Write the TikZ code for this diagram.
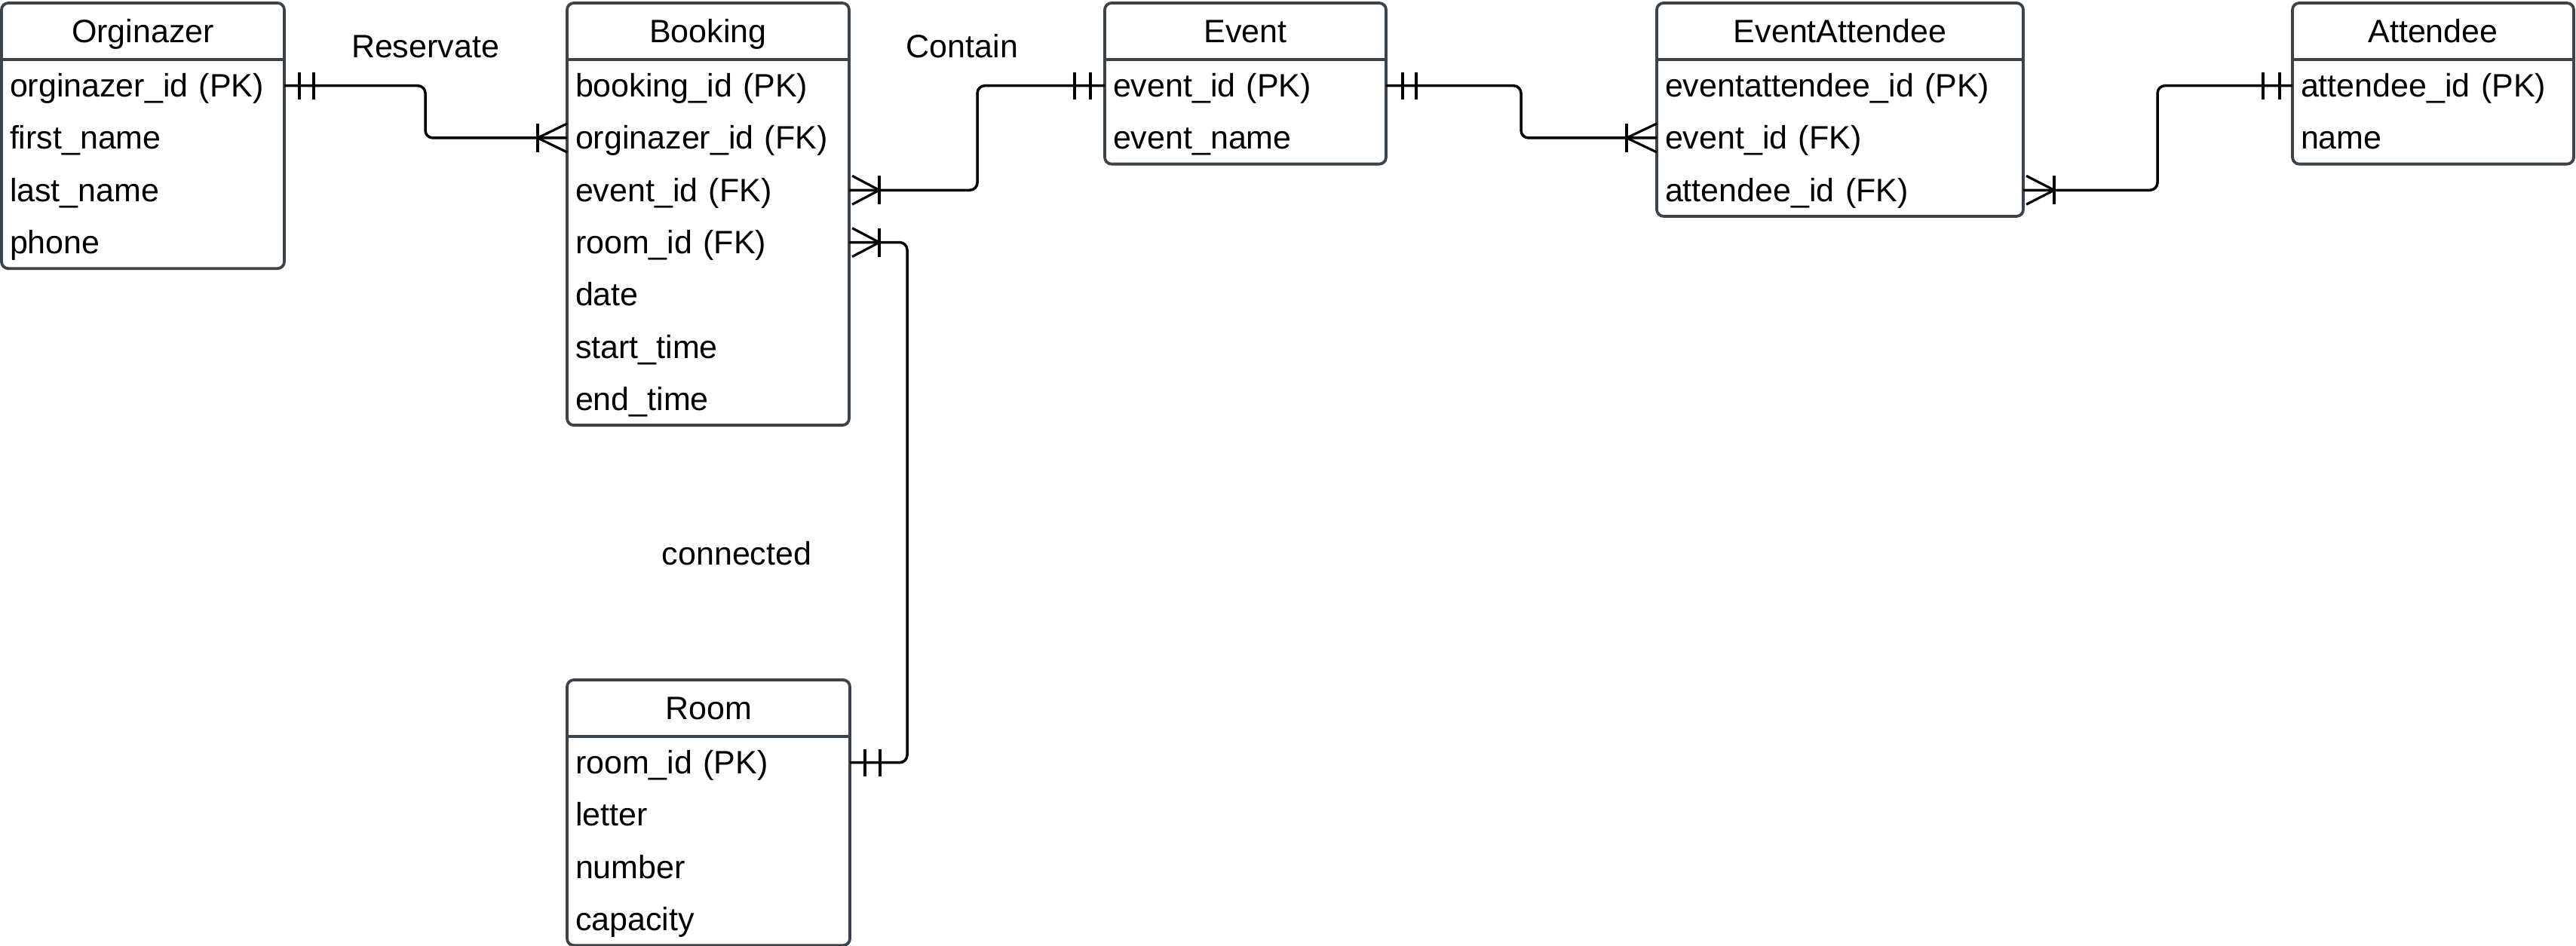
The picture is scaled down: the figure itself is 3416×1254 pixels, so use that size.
\documentclass[tikz,border=0pt]{standalone}
\usepackage{fontspec}
\setmainfont{Liberation Sans}
\definecolor{boxgray}{HTML}{3D434A}
\begin{document}
\begin{tikzpicture}[x=1pt,y=-1pt,
  every node/.style={font=\fontsize{43}{52}\selectfont, inner sep=0pt, outer sep=0pt, text height=36pt, text depth=6pt},
  hdr/.style={minimum width=#1, minimum height=75pt, anchor=north west, align=center},
  row/.style={text width=#1, inner xsep=11pt, minimum height=69.3pt, anchor=north west, align=left},
  entbox/.style={draw=boxgray, line width=3.8pt, rounded corners=9pt},
  sepline/.style={draw=boxgray, line width=3.8pt},
  conn/.style={draw=black, line width=3.5pt, rounded corners=10pt},
  tick/.style={draw=black, line width=3.2pt},
  lbl/.style={anchor=center}
]
\useasboundingbox (0,0) rectangle (3416,1254);
\fill[white] (0,0) rectangle (3416,1254);

% ---------- Orginazer ----------
\node[hdr=375pt] (org-h) at (2,4) {Orginazer};
\node[row=353pt] (org-1) at (2,79) {orginazer\_id (PK)};
\node[row=353pt] (org-2) at (2,148.3) {first\_name};
\node[row=353pt] (org-3) at (2,217.6) {last\_name};
\node[row=353pt] (org-4) at (2,286.9) {phone};
\draw[entbox] (org-h.north west) rectangle (org-4.south east);
\draw[sepline] (org-h.south west) -- (org-h.south east);

% ---------- Booking ----------
\node[hdr=374pt] (book-h) at (752,4) {Booking};
\node[row=352pt] (book-1) at (752,79) {booking\_id (PK)};
\node[row=352pt] (book-2) at (752,148.3) {orginazer\_id (FK)};
\node[row=352pt] (book-3) at (752,217.6) {event\_id (FK)};
\node[row=352pt] (book-4) at (752,286.9) {room\_id (FK)};
\node[row=352pt] (book-5) at (752,356.2) {date};
\node[row=352pt] (book-6) at (752,425.5) {start\_time};
\node[row=352pt] (book-7) at (752,494.8) {end\_time};
\draw[entbox] (book-h.north west) rectangle (book-7.south east);
\draw[sepline] (book-h.south west) -- (book-h.south east);

% ---------- Event ----------
\node[hdr=373pt] (ev-h) at (1465,4) {Event};
\node[row=351pt] (ev-1) at (1465,79) {event\_id (PK)};
\node[row=351pt] (ev-2) at (1465,148.3) {event\_name};
\draw[entbox] (ev-h.north west) rectangle (ev-2.south east);
\draw[sepline] (ev-h.south west) -- (ev-h.south east);

% ---------- EventAttendee ----------
\node[hdr=486pt] (ea-h) at (2197,4) {EventAttendee};
\node[row=464pt] (ea-1) at (2197,79) {eventattendee\_id (PK)};
\node[row=464pt] (ea-2) at (2197,148.3) {event\_id (FK)};
\node[row=464pt] (ea-3) at (2197,217.6) {attendee\_id (FK)};
\draw[entbox] (ea-h.north west) rectangle (ea-3.south east);
\draw[sepline] (ea-h.south west) -- (ea-h.south east);

% ---------- Attendee ----------
\node[hdr=373pt] (att-h) at (3040,4) {Attendee};
\node[row=351pt] (att-1) at (3040,79) {attendee\_id (PK)};
\node[row=351pt] (att-2) at (3040,148.3) {name};
\draw[entbox] (att-h.north west) rectangle (att-2.south east);
\draw[sepline] (att-h.south west) -- (att-h.south east);

% ---------- Room ----------
\node[hdr=375pt] (room-h) at (752,902) {Room};
\node[row=353pt] (room-1) at (752,977) {room\_id (PK)};
\node[row=353pt] (room-2) at (752,1046.3) {letter};
\node[row=353pt] (room-3) at (752,1115.6) {number};
\node[row=353pt] (room-4) at (752,1184.9) {capacity};
\draw[entbox] (room-h.north west) rectangle (room-4.south east);
\draw[sepline] (room-h.south west) -- (room-h.south east);

% ---------- Labels ----------
\node[lbl] (l-res) at (564,61) {Reservate};
\node[lbl] (l-con) at (1276,61) {Contain};
\node[lbl] (l-cnd) at (977,734) {connected};

% ---------- Connectors ----------
% Orginazer -> Booking
\draw[conn] (org-1.east) -- ++(187,0) |- (book-2.west);
\draw[tick] ([xshift=20pt]org-1.east) ++(0,-18) -- ++(0,36);
\draw[tick] ([xshift=39pt]org-1.east) ++(0,-18) -- ++(0,36);
\draw[tick] ([xshift=-39pt]book-2.west) ++(0,-19) -- ++(0,38);
\draw[tick] ([yshift=19pt]book-2.west) -- ([xshift=-39pt]book-2.west) -- ([yshift=-19pt]book-2.west);

% Booking -> Event
\draw[conn] (book-3.east) -- ++(170,0) |- (ev-1.west);
\draw[tick] ([xshift=40pt]book-3.east) ++(0,-19) -- ++(0,38);
\draw[tick] ([xshift=4pt,yshift=19pt]book-3.east) -- ([xshift=40pt]book-3.east) -- ([xshift=4pt,yshift=-19pt]book-3.east);
\draw[tick] ([xshift=-19pt]ev-1.west) ++(0,-18) -- ++(0,36);
\draw[tick] ([xshift=-40pt]ev-1.west) ++(0,-18) -- ++(0,36);

% Booking -> Room
\draw[conn] (book-4.east) -- ++(77,0) |- (room-1.east);
\draw[tick] ([xshift=40pt]book-4.east) ++(0,-19) -- ++(0,38);
\draw[tick] ([xshift=4pt,yshift=19pt]book-4.east) -- ([xshift=40pt]book-4.east) -- ([xshift=4pt,yshift=-19pt]book-4.east);
\draw[tick] ([xshift=20pt]room-1.east) ++(0,-18) -- ++(0,36);
\draw[tick] ([xshift=40pt]room-1.east) ++(0,-18) -- ++(0,36);

% Event -> EventAttendee
\draw[conn] (ev-1.east) -- ++(179,0) |- (ea-2.west);
\draw[tick] ([xshift=22pt]ev-1.east) ++(0,-18) -- ++(0,36);
\draw[tick] ([xshift=40pt]ev-1.east) ++(0,-18) -- ++(0,36);
\draw[tick] ([xshift=-40pt]ea-2.west) ++(0,-19) -- ++(0,38);
\draw[tick] ([yshift=19pt]ea-2.west) -- ([xshift=-40pt]ea-2.west) -- ([yshift=-19pt]ea-2.west);

% EventAttendee -> Attendee
\draw[conn] (ea-3.east) -- ++(178,0) |- (att-1.west);
\draw[tick] ([xshift=41pt]ea-3.east) ++(0,-19) -- ++(0,38);
\draw[tick] ([xshift=4pt,yshift=19pt]ea-3.east) -- ([xshift=41pt]ea-3.east) -- ([xshift=4pt,yshift=-19pt]ea-3.east);
\draw[tick] ([xshift=-17pt]att-1.west) ++(0,-18) -- ++(0,36);
\draw[tick] ([xshift=-39pt]att-1.west) ++(0,-18) -- ++(0,36);
\end{tikzpicture}
\end{document}
